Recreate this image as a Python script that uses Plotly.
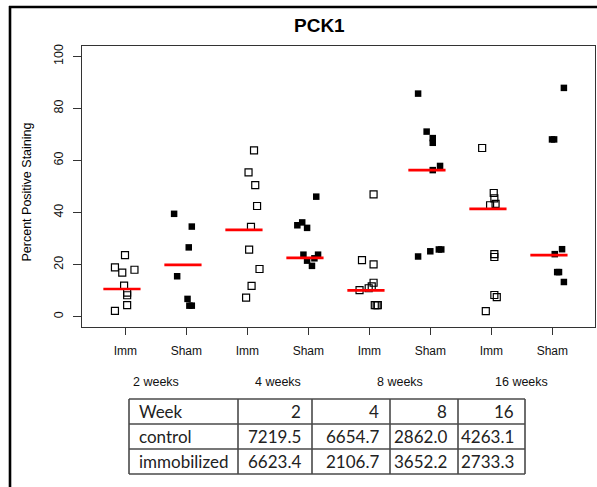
import plotly.graph_objects as go

# ---------------- data ----------------
group_labels = ["Imm", "Sham", "Imm", "Sham", "Imm", "Sham", "Imm", "Sham"]
week_labels = ["2 weeks", "4 weeks", "8 weeks", "16 weeks"]

g1_vals = [23.6, 18.9, 16.9, 18.0, 11.9, 9.2, 8.2, 4.4, 2.2]
g1_jit = [-0.005, -0.17, -0.05, 0.15, -0.02, 0.03, 0.03, 0.03, -0.17]
g2_vals = [39.5, 34.6, 26.6, 15.5, 6.8, 4.2, 4.2]
g2_jit = [-0.20, 0.09, 0.04, -0.15, 0.02, 0.05, 0.09]
g3_vals = [63.9, 55.4, 50.5, 42.5, 34.5, 25.7, 18.3, 11.8, 7.3]
g3_jit = [0.11, 0.02, 0.13, 0.16, 0.06, 0.03, 0.20, 0.07, -0.02]
g4_vals = [46.1, 35.1, 36.2, 34.1, 23.8, 23.8, 21.5, 22.4, 19.5]
g4_jit = [0.13, -0.18, -0.10, -0.02, -0.08, 0.16, -0.02, 0.10, 0.06]
g5_vals = [47.0, 21.7, 20.1, 13.0, 11.6, 10.9, 10.2, 4.4, 4.4, 4.4]
g5_jit = [0.07, -0.12, 0.07, 0.07, 0.04, -0.01, -0.16, 0.09, 0.14, 0.12]
g6_vals = [85.7, 71.1, 68.6, 66.8, 57.9, 56.3, 23.1, 25.1, 25.8, 25.8]
g6_jit = [-0.20, -0.06, 0.04, 0.04, 0.16, 0.04, -0.20, 0.0, 0.14, 0.18]
g7_vals = [64.8, 47.5, 45.4, 43.3, 42.8, 24.0, 22.9, 8.3, 7.5, 2.1]
g7_jit = [-0.15, 0.04, 0.05, 0.07, -0.02, 0.05, 0.05, 0.05, 0.09, -0.09]
g8_vals = [87.9, 68.1, 68.1, 25.9, 24.0, 17.1, 17.1, 13.3]
g8_jit = [0.19, -0.005, 0.03, 0.16, 0.04, 0.08, 0.11, 0.19]

median_lines = [10.6, 19.9, 33.3, 22.6, 10.1, 56.3, 41.4, 23.6]

y_ticks = [0, 20, 40, 60, 80, 100]

table_header = ["Week", "2", "4", "8", "16"]
table_control = ["control", "7219.5", "6654.7", "2862.0", "4263.1"]
table_immob = ["immobilized", "6623.4", "2106.7", "3652.2", "2733.3"]

all_vals = [g1_vals, g2_vals, g3_vals, g4_vals, g5_vals, g6_vals, g7_vals, g8_vals]
all_jit = [g1_jit, g2_jit, g3_jit, g4_jit, g5_jit, g6_jit, g7_jit, g8_jit]

# ---------------- layout geometry (pixels) ----------------
W, H = 597, 487
L, R, T, B = 82, 2, 46, 160
PW = W - L - R
PH = H - T - B


def px_x(px):
    return (px - L) / PW


def px_y(py):
    return (H - B - py) / PH


FONT = "Liberation Sans, Arial, sans-serif"
TFONT = "Lato, Carlito, Calibri, sans-serif"

fig = go.Figure()

for i, (vals, jit) in enumerate(zip(all_vals, all_jit)):
    pos = i + 1
    is_imm = group_labels[i] == "Imm"
    fig.add_trace(go.Scatter(
        x=[pos + j for j in jit],
        y=vals,
        mode="markers",
        marker=dict(
            symbol="square-open" if is_imm else "square",
            size=7 if is_imm else 6.5,
            color="black",
            line=dict(color="black", width=1.2 if is_imm else 0),
        ),
        showlegend=False,
        hoverinfo="y",
    ))

# red median segments
mx, my = [], []
for i, m in enumerate(median_lines):
    pos = i + 1
    mx += [pos - 0.36, pos + 0.25, None]
    my += [m, m, None]
fig.add_trace(go.Scatter(x=mx, y=my, mode="lines",
                         line=dict(color="#ff0000", width=2.7),
                         showlegend=False, hoverinfo="skip"))

fig.update_xaxes(
    range=[0.29, 8.70],
    tickmode="array",
    tickvals=list(range(1, 9)),
    ticktext=group_labels,
    ticks="outside", ticklen=7, tickwidth=1, tickcolor="#333",
    showline=True, linecolor="#333", linewidth=1, mirror=True,
    showgrid=False, zeroline=False,
    tickfont=dict(family=FONT, size=12, color="#111"),
    ticklabelstandoff=6,
)
fig.update_yaxes(
    range=[-4, 104],
    tickmode="array",
    tickvals=y_ticks,
    ticktext=[str(v) for v in y_ticks],
    tickangle=-90,
    ticks="outside", ticklen=8, tickwidth=1, tickcolor="#333",
    showline=True, linecolor="#333", linewidth=1, mirror=True,
    showgrid=False, zeroline=False,
    tickfont=dict(family=FONT, size=12.5, color="#111"),
    ticklabelstandoff=5,
)

annotations = []
# title
annotations.append(dict(text="<b>PCK1</b>", x=px_x(319), y=px_y(25.5),
                        xref="paper", yref="paper", showarrow=False,
                        xanchor="center", yanchor="middle",
                        font=dict(family=FONT, size=19, color="#000")))
# y label
annotations.append(dict(text="Percent Positive Staining", x=px_x(27), y=px_y(192.5),
                        xref="paper", yref="paper", showarrow=False, textangle=-90,
                        xanchor="center", yanchor="middle",
                        font=dict(family=FONT, size=12.5, color="#000")))
# week labels
for k, wl in enumerate(week_labels):
    annotations.append(dict(text=wl, x=2 * k + 1.5, y=px_y(382),
                            xref="x", yref="paper", showarrow=False,
                            xanchor="center", yanchor="middle",
                            font=dict(family=FONT, size=12.5, color="#111")))

# table
col_edges = [129, 238, 312, 390, 458, 525]
row_edges = [399, 424, 449, 474]
rows = [table_header, table_control, table_immob]
for r, row in enumerate(rows):
    yc = (row_edges[r] + row_edges[r + 1]) / 2
    for c, cell in enumerate(row):
        if c == 0:
            xa, xp = "left", col_edges[0] + 8
        else:
            xa, xp = "right", col_edges[c + 1] - 9
        annotations.append(dict(text=cell, x=px_x(xp), y=px_y(yc),
                                xref="paper", yref="paper", showarrow=False,
                                xanchor=xa, yanchor="middle",
                                font=dict(family=TFONT, size=17, color="#222")))

shapes = []
lc = "#4a4a4a"
for ye in row_edges:
    shapes.append(dict(type="line", xref="paper", yref="paper",
                       x0=px_x(col_edges[0]), x1=px_x(col_edges[-1]),
                       y0=px_y(ye), y1=px_y(ye), line=dict(color=lc, width=1.6)))
for xe in col_edges:
    shapes.append(dict(type="line", xref="paper", yref="paper",
                       x0=px_x(xe), x1=px_x(xe),
                       y0=px_y(row_edges[0]), y1=px_y(row_edges[-1]),
                       line=dict(color=lc, width=1.6)))
# outer frame (top and left)
shapes.append(dict(type="line", xref="paper", yref="paper",
                   x0=px_x(9), x1=px_x(600), y0=px_y(7), y1=px_y(7),
                   line=dict(color="black", width=2.6)))
shapes.append(dict(type="line", xref="paper", yref="paper",
                   x0=px_x(10), x1=px_x(10), y0=px_y(6), y1=px_y(490),
                   line=dict(color="black", width=2.6)))

fig.update_layout(
    width=W, height=H,
    margin=dict(l=L, r=R, t=T, b=B),
    paper_bgcolor="white", plot_bgcolor="white",
    annotations=annotations,
    shapes=shapes,
    showlegend=False,
)

fig.write_html(
    "out.html",
    config={"displayModeBar": False},
    post_script="document.body.style.margin='0';document.body.style.overflow='hidden';",
)
